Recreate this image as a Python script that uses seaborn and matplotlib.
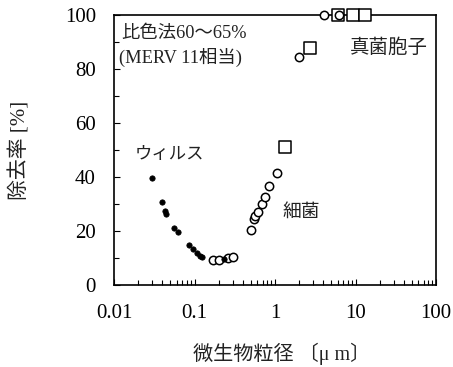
# 除去率 vs 微生物粒径 (比色法60〜65% フィルタ)

import numpy as np
import seaborn as sns
import matplotlib.pyplot as plt
from matplotlib.ticker import FixedLocator, LogLocator, NullFormatter


# ウィルス (黒丸)
virus_x = [0.0299, 0.0392, 0.0430, 0.0438, 0.0561, 0.0629, 0.0861, 0.0966,
           0.108, 0.118, 0.124, 0.234]
virus_y = [39.5, 30.6, 27.5, 26.3, 21.0, 19.5, 14.7, 13.3, 12.0, 10.7, 10.5, 9.6]

# 細菌 (白丸)
bact_x = [0.168, 0.203, 0.261, 0.303, 0.499, 0.548, 0.569, 0.615, 0.690,
          0.759, 0.850, 1.05, 2.0, 4.06, 6.3]
bact_y = [9.3, 9.3, 9.9, 10.4, 20.4, 24.3, 25.5, 27.2, 30.0, 32.7, 36.8,
          41.6, 84.6, 100, 100]

# 真菌胞子 (白四角)
spore_x = [1.33, 2.72, 6.0, 9.4, 13.2]
spore_y = [51.0, 87.7, 100, 100, 100]

xticks = [0.01, 0.1, 1, 10, 100]
xticklabels = ["0.01", "0.1", "1", "10", "100"]
yticks = [0, 20, 40, 60, 80, 100]


sns.set_style("ticks")
plt.rcParams["font.family"] = ["Liberation Serif", "Noto Sans CJK JP"]
plt.rcParams["axes.unicode_minus"] = False

fig = plt.figure(figsize=(4.53, 3.67), dpi=100)
ax = fig.add_axes([0.2517, 0.2234, 0.7108, 0.7357])

sns.scatterplot(x=spore_x, y=spore_y, ax=ax, marker="s", s=80,
                color="white", edgecolor="black", linewidth=1.1,
                clip_on=False, zorder=4)
sns.scatterplot(x=bact_x, y=bact_y, ax=ax, marker="o", s=36,
                color="white", edgecolor="black", linewidth=1.1,
                clip_on=False, zorder=5)
sns.scatterplot(x=virus_x, y=virus_y, ax=ax, marker="o", s=15,
                color="black", edgecolor="black", linewidth=0.5,
                clip_on=False, zorder=5)

ax.set_xscale("log")
ax.set_xlim(0.01, 100)
ax.set_ylim(0, 100)
ax.set_xticks(xticks)
ax.set_xticklabels(xticklabels)
ax.xaxis.set_minor_locator(LogLocator(base=10, subs=np.arange(2, 10)))
ax.xaxis.set_minor_formatter(NullFormatter())
ax.set_yticks(yticks)
ax.yaxis.set_minor_locator(FixedLocator([10, 30, 50, 70, 90]))

ax.tick_params(which="both", direction="in", width=0.8, colors="black",
               labelsize=15)
ax.tick_params(which="major", length=4.5)
ax.tick_params(which="minor", length=3.5)
ax.tick_params(axis="x", pad=14)
ax.tick_params(axis="y", pad=13)

for s in ax.spines.values():
    s.set_linewidth(1.2)
    s.set_color("black")

ax.set_xlabel("微生物粒径 〔μ m〕", fontsize=14.5, color="#222222")
ax.set_ylabel("除去率 [%]", fontsize=15, color="#222222")
ax.xaxis.set_label_coords(0.519, -0.215)
ax.yaxis.set_label_coords(-0.26, 0.5)

kw = dict(transform=ax.transAxes, va="center", ha="left", color="#222222")
ax.text(0.022, 0.933, "比色法60〜65%", fontsize=13.2, **kw)
ax.text(0.015, 0.844, "(MERV 11相当)", fontsize=13.2, **kw)
ax.text(0.733, 0.878, "真菌胞子", fontsize=14, **kw)
ax.text(0.065, 0.481, "ウィルス", fontsize=12.5, **kw)
ax.text(0.522, 0.270, "細菌", fontsize=13.5, **kw)

plt.savefig("out.png", dpi=100)
plt.close()
